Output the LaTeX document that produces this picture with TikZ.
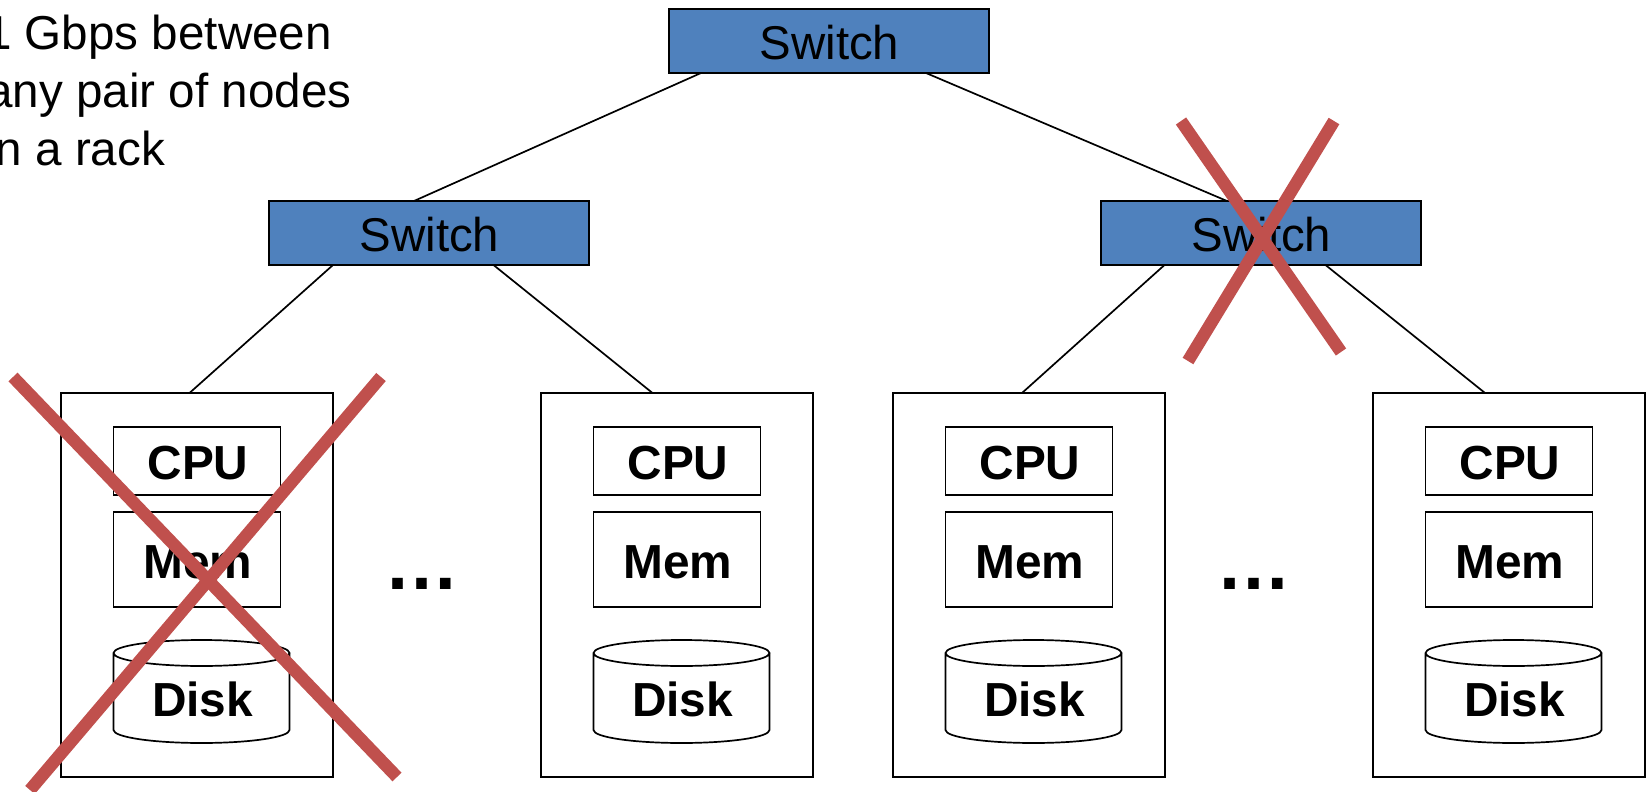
\documentclass[tikz,border=0pt]{standalone}
\usepackage{fontspec}
\setmainfont{Liberation Sans}
\definecolor{swblue}{HTML}{4F81BD}
\definecolor{xred}{HTML}{C0504D}
\tikzset{
  x=1pt,y=-1pt,
  switchbox/.style={draw=black,line width=1.8pt,fill=swblue,minimum width=320pt,minimum height=64pt,inner sep=0pt,outer sep=0pt},
  switchlabel/.style={font=\fontsize{47.4}{48}\selectfont,text=black,inner sep=0pt,anchor=base},
  serverbox/.style={draw=black,line width=1.9pt,minimum width=272pt,minimum height=384pt,inner sep=0pt,outer sep=0pt},
  partbox/.style={draw=black,line width=1.7pt,minimum width=167pt,inner sep=0pt,outer sep=0pt},
  partlabel/.style={font=\fontsize{47.8}{48}\selectfont\bfseries,inner sep=0pt,anchor=base},
  link/.style={draw=black,line width=1.7pt},
  cross/.style={draw=xred,line width=12.5pt,line cap=butt},
  dotlabel/.style={font=\fontsize{75}{75}\selectfont\bfseries,inner sep=0pt,anchor=base},
  textline/.style={font=\fontsize{47.6}{48}\selectfont,inner sep=0pt,anchor=base west},
}
\begin{document}
\begin{tikzpicture}
\useasboundingbox (0,0) rectangle (1650,792);
\clip (0,0) rectangle (1650,792);
% caption
\node[textline] (capA) at (-15,50) {1 Gbps between};
\node[textline] (capB) at (-14,107.5) {any pair of nodes};
\node[textline] (capC) at (-15,165) {in a rack};
% servers
\foreach \n/\dx in {a/0,b/480,c/832,d/1312}{
  \begin{scope}[shift={(\dx,0)}]
    \node[serverbox] (srv\n) at (197,585) {};
    \node[partbox,minimum height=68pt] (cpu\n) at (197,461) {};
    \node[partlabel] (cpul\n) at (198,479) {CPU};
    \node[partbox,minimum height=95pt] (mem\n) at (197,559.5) {};
    \node[partlabel] (meml\n) at (198,578) {Mem};
    \draw[line width=1.7pt] (113.5,653)
      arc[start angle=180,end angle=0,x radius=88,y radius=13]
      arc[start angle=0,end angle=-180,x radius=88,y radius=13] -- (113.5,730)
      arc[start angle=180,end angle=0,x radius=88,y radius=13] -- (289.5,653);
    \node[partlabel] (dsk\n) at (202.5,716) {Disk};
  \end{scope}
}
% switches
\node[switchbox] (top) at (829,41) {};
\node[switchlabel] (topl) at (829.5,59.5) {Switch};
\node[switchbox] (left) at (429,233) {};
\node[switchlabel] (leftl) at (429.5,251) {Switch};
\node[switchbox] (right) at (1261,233) {};
\node[switchlabel] (rightl) at (1261.5,251) {Switch};
% links
\draw[link] ([xshift=32pt]top.south west) -- ([xshift=145pt]left.north west);
\draw[link] ([xshift=257pt]top.south west) -- ([xshift=126pt]right.north west);
\draw[link] ([xshift=64pt]left.south west) -- ([xshift=128.5pt]srva.north west);
\draw[link] ([xshift=224.5pt]left.south west) -- ([xshift=111.5pt]srvb.north west);
\draw[link] ([xshift=63.5pt]right.south west) -- ([xshift=129pt]srvc.north west);
\draw[link] ([xshift=224.5pt]right.south west) -- ([xshift=112pt]srvd.north west);
% dots
\node[dotlabel] (dotsA) at (422,589) {…};
\node[dotlabel] (dotsB) at (1254,589) {…};
% crosses
\draw[cross] (13,377) -- (397,777);
\draw[cross] (381,377) -- (30,790);
\draw[cross] (1181,121) -- (1341,352);
\draw[cross] (1334,121) -- (1188,361);
\end{tikzpicture}
\end{document}
